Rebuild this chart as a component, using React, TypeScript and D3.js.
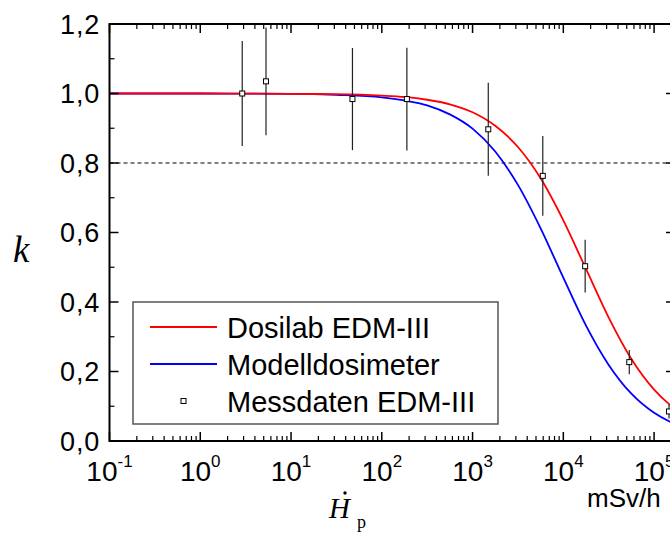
import React from "react";
import * as d3 from "d3";

// Fitted curves (x in mSv/h, k)
const curveX = [0.1, 1, 10, 31.6, 100, 178, 316, 562, 1000, 1778, 3162, 5623, 10000, 17783, 31623, 56234, 100000, 177828, 316228];
const dosilabK = [1.0, 1.0, 0.999, 0.998, 0.994, 0.99, 0.982, 0.969, 0.946, 0.907, 0.846, 0.756, 0.635, 0.495, 0.355, 0.236, 0.148, 0.089, 0.052];
const modellK = [1.0, 1.0, 0.999, 0.996, 0.989, 0.98, 0.966, 0.94, 0.899, 0.833, 0.737, 0.612, 0.47, 0.332, 0.219, 0.136, 0.081, 0.047, 0.027];

// Measured points with error bars
const measX = [2.9, 5.3, 47.5, 189, 1490, 5940, 17400, 53300, 146000];
const measK = [1.0, 1.035, 0.984, 0.984, 0.897, 0.763, 0.503, 0.227, 0.085];
const measErr = [0.151, 0.155, 0.147, 0.148, 0.134, 0.115, 0.076, 0.035, 0.02];

const yTicks = [0, 0.2, 0.4, 0.6, 0.8, 1.0, 1.2];
const yTickLabels = ["0,0", "0,2", "0,4", "0,6", "0,8", "1,0", "1,2"];
const xDecades = [-1, 0, 1, 2, 3, 4, 5];

const legendLabels = ["Dosilab EDM-III", "Modelldosimeter", "Messdaten EDM-III"];

const W = 670, H = 534;
const L = 109.5, R = 675, T = 24, B = 441;

export default function App() {
  const x = d3.scaleLog().domain([0.1, 1.7e5]).range([L, R]);
  const y = d3.scaleLinear().domain([0, 1.2]).range([B, T]);

  const line = d3
    .line<[number, number]>()
    .x((d) => x(d[0]))
    .y((d) => y(d[1]))
    .curve(d3.curveMonotoneX);

  const redPath = line(curveX.map((v, i) => [v, dosilabK[i]]) as [number, number][]) || "";
  const bluePath = line(curveX.map((v, i) => [v, modellK[i]]) as [number, number][]) || "";

  const majorX = xDecades.map((e) => Math.pow(10, e));
  const minorX: number[] = [];
  xDecades.forEach((e) => {
    for (let m = 2; m <= 9; m++) {
      const v = m * Math.pow(10, e);
      if (v <= 1.7e5) minorX.push(v);
    }
  });
  const minorY = [0.1, 0.3, 0.5, 0.7, 0.9, 1.1];

  const font = "Liberation Sans, Arial, sans-serif";
  const serif = "Liberation Serif, Times New Roman, serif";
  const MAJ = 9, MIN = 5;

  return (
    <svg width={W} height={H} style={{ position: "absolute", left: 0, top: 0, background: "#fff" }}>
      <defs>
        <clipPath id="plot">
          <rect x={L} y={T} width={R - L} height={B - T} />
        </clipPath>
      </defs>
      <rect x={0} y={0} width={W} height={H} fill="#fff" />

      {/* dashed reference line at 0.8 */}
      <line x1={L} x2={R} y1={y(0.8)} y2={y(0.8)} stroke="#000" strokeWidth={1} strokeDasharray="4,3" />

      {/* curves */}
      <g clipPath="url(#plot)">
        <path d={bluePath} fill="none" stroke="#0000ff" strokeWidth={1.8} />
        <path d={redPath} fill="none" stroke="#ff0000" strokeWidth={1.8} />
      </g>

      {/* error bars & markers */}
      {measX.map((v, i) => (
        <line key={"e" + i} x1={x(v)} x2={x(v)} y1={y(measK[i] + measErr[i])} y2={y(measK[i] - measErr[i])} stroke="#222" strokeWidth={1.2} />
      ))}
      {measX.map((v, i) => (
        <rect key={"m" + i} x={x(v) - 2.5} y={y(measK[i]) - 2.5} width={5} height={5} fill="#fff" stroke="#000" strokeWidth={1} />
      ))}

      {/* frame */}
      <rect x={L} y={T} width={R - L} height={B - T} fill="none" stroke="#000" strokeWidth={2} />

      {/* x ticks (bottom & top, inward) */}
      {majorX.map((v, i) => (
        <g key={"xM" + i}>
          <line x1={x(v)} x2={x(v)} y1={B} y2={B - MAJ} stroke="#000" strokeWidth={1.5} />
          <line x1={x(v)} x2={x(v)} y1={T} y2={T + MAJ} stroke="#000" strokeWidth={1.5} />
        </g>
      ))}
      {minorX.map((v, i) => (
        <g key={"xm" + i}>
          <line x1={x(v)} x2={x(v)} y1={B} y2={B - MIN} stroke="#000" strokeWidth={1.2} />
          <line x1={x(v)} x2={x(v)} y1={T} y2={T + MIN} stroke="#000" strokeWidth={1.2} />
        </g>
      ))}
      {/* y ticks (left & right, inward) */}
      {yTicks.map((v, i) => (
        <g key={"yM" + i}>
          <line x1={L} x2={L + MAJ} y1={y(v)} y2={y(v)} stroke="#000" strokeWidth={1.5} />
          <line x1={R} x2={R - MAJ} y1={y(v)} y2={y(v)} stroke="#000" strokeWidth={1.5} />
        </g>
      ))}
      {minorY.map((v, i) => (
        <g key={"ym" + i}>
          <line x1={L} x2={L + MIN} y1={y(v)} y2={y(v)} stroke="#000" strokeWidth={1.2} />
          <line x1={R} x2={R - MIN} y1={y(v)} y2={y(v)} stroke="#000" strokeWidth={1.2} />
        </g>
      ))}

      {/* y tick labels */}
      {yTicks.map((v, i) => (
        <text key={"yl" + i} x={100} y={y(v) + 9.5} textAnchor="end" fontFamily={font} fontSize={27} letterSpacing={0.8} fill="#000">
          {yTickLabels[i]}
        </text>
      ))}

      {/* x tick labels */}
      {xDecades.map((e, i) => (
        <text key={"xl" + i} x={x(Math.pow(10, e))} y={481} textAnchor="middle" fontFamily={font} fontSize={28} fill="#000">
          10
          <tspan fontSize={17} dy={-14}>{String(e)}</tspan>
        </text>
      ))}

      {/* axis titles */}
      <text x={13} y={262} fontFamily={serif} fontStyle="italic" fontSize={37} fill="#000">k</text>
      <text x={329} y={518} fontFamily={serif} fontStyle="italic" fontSize={29} fill="#000">H</text>
      <circle cx={345} cy={493} r={1.7} fill="#000" />
      <text x={357} y={528} fontFamily={serif} fontSize={18} fill="#000">p</text>
      <text x={587} y={507} fontFamily={font} fontSize={26} fill="#000">mSv/h</text>

      {/* legend */}
      <rect x={133} y={302} width={365} height={122} fill="#fff" stroke="#555" strokeWidth={1.5} />
      <line x1={150} x2={217} y1={327} y2={327} stroke="#ff0000" strokeWidth={1.8} />
      <line x1={150} x2={217} y1={364} y2={364} stroke="#0000ff" strokeWidth={1.8} />
      <rect x={181} y={398.5} width={5} height={5} fill="#fff" stroke="#000" strokeWidth={1} />
      {legendLabels.map((s, i) => (
        <text key={"lg" + i} x={227} y={338 + i * 37} fontFamily={font} fontSize={29} fill="#000">
          {s}
        </text>
      ))}
    </svg>
  );
}
